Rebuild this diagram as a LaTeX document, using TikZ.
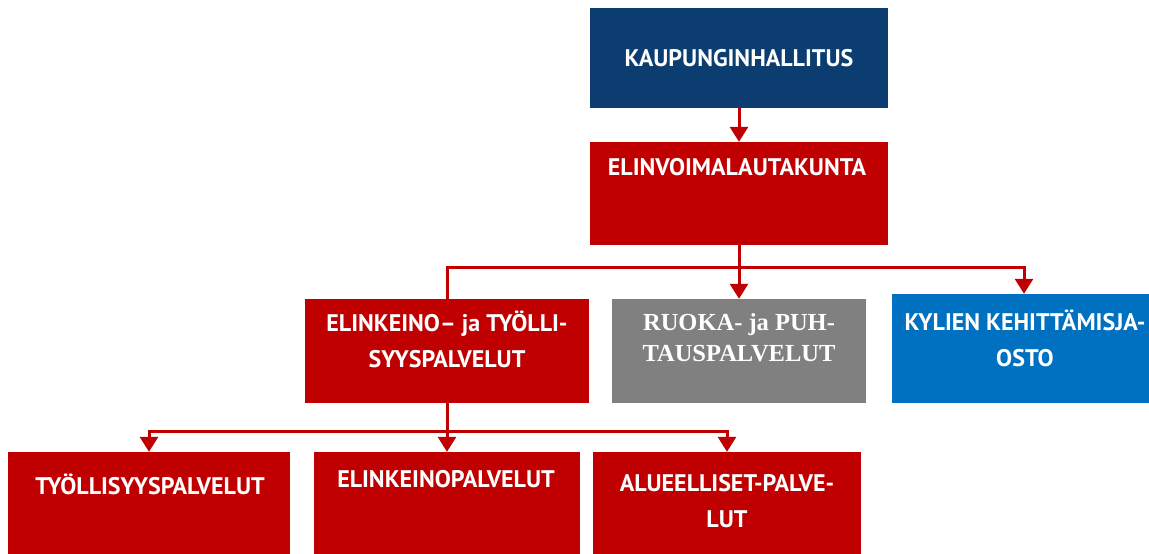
\documentclass[tikz,border=0pt]{standalone}
\usepackage{fontspec}
\setmainfont{PT Sans}
\newfontfamily\ruokafont{Liberation Serif}
\usepackage{tikz}
\usetikzlibrary{arrows.meta, positioning}
\definecolor{navy}{RGB}{11,61,112}
\definecolor{boxred}{RGB}{192,0,0}
\definecolor{boxgray}{RGB}{128,128,128}
\definecolor{boxblue}{RGB}{0,112,192}

\begin{document}
\begin{tikzpicture}[x=1pt, y=-1pt,
    font=\bfseries\fontsize{24}{36}\selectfont,
    orgbox/.style 2 args={rectangle, inner sep=0pt, minimum width=#1, minimum height=#2},
    lbl/.style={text=white, align=center, inner sep=0pt},
    conn/.style={draw=boxred, line width=3pt},
    arr/.style={conn, -{Triangle[length=15pt, width=18pt]}}]
  \useasboundingbox (0,0) rectangle (1149,554);
  % boxes
  \node[orgbox={298}{100}, fill=navy] (hallitus) at (739,58) {};
  \node[orgbox={298}{103}, fill=boxred] (elinvoima) at (739,193.5) {};
  \node[orgbox={284}{104}, fill=boxred] (elinkeino) at (447,351) {};
  \node[orgbox={254}{104}, fill=boxgray] (ruoka) at (739,351) {};
  \node[orgbox={264}{109}, fill=boxblue] (kylien) at (1024,348.5) {};
  \foreach \nm/\cx/\w in {tyollisyys/149/282, elinkeinop/447/266, alueelliset/727/268}{
    \node[orgbox={\w}{104}, fill=boxred] (\nm) at (\cx,504) {};
  }
  % texts
  \node[lbl, anchor=base] (hallitus-t) at (739,66) {KAUPUNGINHALLITUS};
  \node[lbl, anchor=base] (elinvoima-t) at (737,175) {ELINVOIMALAUTAKUNTA};
  \node[lbl] (elinkeino-t) at (447,339.5) {ELINKEINO– ja TYÖLLI-\\SYYSPALVELUT};
  \node[lbl, font=\ruokafont\bfseries\fontsize{24.5}{31}\selectfont] (ruoka-t) at (739,337.5) {RUOKA- ja PUH-\\TAUSPALVELUT};
  \node[lbl] (kylien-t) at (1025,338) {KYLIEN KEHITTÄMISJA-\\OSTO};
  \node[lbl, anchor=base] (tyollisyys-t) at (150,494) {TYÖLLISYYSPALVELUT};
  \node[lbl, anchor=base] (elinkeinop-t) at (446,487) {ELINKEINOPALVELUT};
  \node[lbl] (alueelliset-t) at (727,501.5) {ALUEELLISET-PALVE-\\LUT};
  % connectors
  \coordinate (bus1) at (739,267);
  \coordinate (bus2) at (447,431);
  \draw[arr] (hallitus.south) -- (elinvoima.north);
  \draw[arr] (elinvoima.south) -- (ruoka.north);
  \draw[conn] (bus1) -| (elinkeino.north);
  \draw[arr] (bus1) -| (kylien.north);
  \draw[arr] (elinkeino.south) -- (elinkeinop.north);
  \draw[arr] (bus2) -| (tyollisyys.north);
  \draw[arr] (bus2) -| (alueelliset.north);
\end{tikzpicture}
\end{document}
